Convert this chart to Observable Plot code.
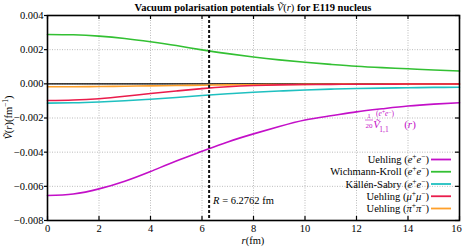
<!DOCTYPE html>
<html><head><meta charset="utf-8">
<script src="https://cdn.jsdelivr.net/npm/d3@7"></script>
<script src="https://cdn.jsdelivr.net/npm/@observablehq/plot@0.6"></script>
<style>body{margin:0;background:#fff}</style>
</head><body><div id="chart"></div>
<script>
// radius (fm)
const r = [0,1,2,3,4,5,6,7,8,9,10,11,12,13,14,15,16];
// potentials (fm^-1); Uehling e+e- already scaled by 1/20
const uehlingEE  = [-0.00654,-0.00645,-0.00615,-0.00570,-0.00513,-0.00452,-0.00395,-0.00340,-0.00293,-0.00250,-0.00212,-0.00187,-0.00164,-0.00146,-0.00130,-0.00119,-0.00111];
const wkEE       = [0.00289,0.00287,0.00279,0.00265,0.00246,0.00224,0.00199,0.00177,0.00157,0.00140,0.00126,0.00114,0.00103,0.00095,0.00088,0.00081,0.00075];
const ksEE       = [-0.00113,-0.00111,-0.00106,-0.00099,-0.00090,-0.00080,-0.00068,-0.00058,-0.00049,-0.00042,-0.00036,-0.00031,-0.00027,-0.00025,-0.00023,-0.00021,-0.00020];
const uehlingMu  = [-0.00098,-0.00095,-0.00087,-0.00073,-0.00057,-0.00042,-0.00028,-0.00017,-0.00010,-0.00006,-0.00004,-0.00003,-0.00002,-0.00002,-0.00001,-0.00001,-0.00001];
const uehlingPi  = [-0.00017,-0.00017,-0.00016,-0.00014,-0.00012,-0.00010,-0.00008,-0.00006,-0.00005,-0.00004,-0.00003,-0.00002,-0.00002,-0.00002,-0.00001,-0.00001,-0.00001];

const seriesNames = ["Uehling (e+e-)","Wichmann-Kroll (e+e-)","Källén-Sabry (e+e-)","Uehling (mu+mu-)","Uehling (pi+pi-)"];
const seriesValues = [uehlingEE, wkEE, ksEE, uehlingMu, uehlingPi];
const colors = ["#c30fc8","#33c033","#1fc0c0","#ea1c4b","#ffa02a"];
const drawOrder = [0,1,2,4,3];
const xTicks = [0,2,4,6,8,10,12,14,16];
const yTicks = [-0.008,-0.006,-0.004,-0.002,0,0.002,0.004];
const R = 6.2762;

const table = [];
drawOrder.forEach(si => r.forEach((rv,i) => table.push({r: rv, v: seriesValues[si][i], s: seriesNames[si]})));

const W = 463, H = 248, mL = 47, mR = 4, mT = 15, mB = 28;
const pw = W - mL - mR, ph = H - mT - mB;
const font = "'Liberation Serif', serif";

const plot = Plot.plot({
  width: W, height: H, marginLeft: mL, marginRight: mR, marginTop: mT, marginBottom: mB,
  style: {fontFamily: font, fontSize: "10.5px", background: "#fff", color: "#000"},
  x: {domain: [0, 16], ticks: xTicks},
  y: {domain: [-0.008, 0.004], ticks: yTicks},
  color: {domain: seriesNames, range: colors},
  marks: [
    Plot.gridX(xTicks, {stroke: "#aaa", strokeOpacity: 1, strokeDasharray: "1,1.5", strokeWidth: 0.8}),
    Plot.gridY(yTicks, {stroke: "#aaa", strokeOpacity: 1, strokeDasharray: "1,1.5", strokeWidth: 0.8}),
    Plot.axisX(xTicks, {tickSize: 0, tickPadding: 4, tickFormat: d => String(d), label: null}),
    Plot.axisY(yTicks, {tickSize: 3, tickPadding: 1, tickFormat: d3.format(".3f"), label: null, strokeWidth: 1.2}),
    Plot.tickX(xTicks, {x: d => d, insetTop: ph - 4, strokeWidth: 1.2}),
    Plot.tickX(xTicks, {x: d => d, insetBottom: ph - 4, strokeWidth: 1.2}),
    Plot.tickY(yTicks, {y: d => d, insetLeft: pw - 4, strokeWidth: 1.2}),
    Plot.ruleY([0], {stroke: "#000", strokeWidth: 1.2}),
    Plot.line(table, {x: "r", y: "v", z: "s", stroke: "s", curve: "natural", strokeWidth: 1.6}),
    Plot.ruleX([R], {stroke: "#111", strokeWidth: 2, strokeDasharray: "3,2"}),
    Plot.text([R], {x: d => d, frameAnchor: "bottom", dy: -17, dx: 4, textAnchor: "start",
      text: d => "R = " + d + " fm", fontSize: 10.5}),
    Plot.frame({stroke: "#000", strokeWidth: 1.6})
  ]
});
document.getElementById("chart").appendChild(plot);

const svg = d3.select(plot);
svg.selectAll("text").each(function(){
  const t = d3.select(this);
  const txt = t.text();
  if (txt.startsWith("R = ")) {
    const tn = t.select("tspan").empty() ? t : t.select("tspan");
    tn.text("");
    tn.append("tspan").attr("font-style","italic").text("R");
    tn.append("tspan").text(txt.slice(1));
  }
  if (txt === "16") t.attr("dx", -3);
});

// Title
const title = svg.append("text").attr("x", mL + pw/2).attr("y", 10.5).attr("text-anchor","middle")
  .attr("font-family", font).attr("font-size", 10.5).attr("font-weight", "bold");
title.append("tspan").text("Vacuum polarisation potentials ");
title.append("tspan").attr("font-style","italic").attr("font-weight","normal").text("Ṽ");
title.append("tspan").attr("font-weight","normal").text("(");
title.append("tspan").attr("font-style","italic").attr("font-weight","normal").text("r");
title.append("tspan").attr("font-weight","normal").text(")");
title.append("tspan").text(" for E119 nucleus");

// x label
const xl = svg.append("text").attr("x", mL + pw/2).attr("y", 244).attr("text-anchor","middle")
  .attr("font-family", font).attr("font-size", 10.5);
xl.append("tspan").attr("font-style","italic").text("r");
xl.append("tspan").text("(fm)");

// y label
const yl = svg.append("text").attr("transform", `translate(12,${mT + ph/2}) rotate(-90)`).attr("text-anchor","middle")
  .attr("font-family", font).attr("font-size", 10.5);
yl.append("tspan").attr("font-style","italic").text("Ṽ");
yl.append("tspan").text("(");
yl.append("tspan").attr("font-style","italic").text("r");
yl.append("tspan").text(")(fm");
yl.append("tspan").attr("font-size", 7.5).attr("dy", -4).text("−1");
yl.append("tspan").attr("dy", 4).text(")");

// Magenta annotation: 1/20 Ṽ_{1,1}^{(e+e-)}(r)
const mc = colors[0];
const ann = svg.append("g").attr("fill", mc).attr("font-family", font);
ann.append("text").attr("x", 369).attr("y", 118).attr("text-anchor","middle").attr("font-size", 7).text("1");
ann.append("line").attr("x1", 365).attr("x2", 373).attr("y1", 120).attr("y2", 120).attr("stroke", mc).attr("stroke-width", 0.6);
ann.append("text").attr("x", 369).attr("y", 127.5).attr("text-anchor","middle").attr("font-size", 7).text("20");
ann.append("text").attr("x", 376.5).attr("y", 128).attr("font-size", 11).attr("font-style","italic").text("Ṽ");
const sup = ann.append("text").attr("x", 385).attr("y", 115.5).attr("font-size", 7.5);
sup.append("tspan").text("(");
sup.append("tspan").attr("font-style","italic").text("e");
sup.append("tspan").attr("font-size", 5.5).attr("dy", -2).text("+");
sup.append("tspan").attr("font-style","italic").attr("dy", 2).text("e");
sup.append("tspan").attr("font-size", 5.5).attr("dy", -2).text("−");
sup.append("tspan").attr("dy", 2).text(")");
ann.append("text").attr("x", 384).attr("y", 132).attr("font-size", 7.5).text("1,1");
const rr = ann.append("text").attr("x", 410).attr("y", 128).attr("font-size", 11);
rr.append("tspan").text("(");
rr.append("tspan").attr("font-style","italic").text("r");
rr.append("tspan").text(")");

// Legend
const legendLabels = [
  ["Uehling (", ["e","+"], ["e","−"], ")"],
  ["Wichmann-Kroll (", ["e","+"], ["e","−"], ")"],
  ["Källén-Sabry (", ["e","+"], ["e","−"], ")"],
  ["Uehling (", ["μ","+"], ["μ","−"], ")"],
  ["Uehling (", ["π","+"], ["π","−"], ")"]
];
const lg = svg.append("g").attr("font-family", font).attr("font-size", 10.5);
legendLabels.forEach((lab, i) => {
  const y = 159.5 + i * 12.25;
  const t = lg.append("text").attr("x", 429).attr("y", y + 3.5).attr("text-anchor", "end");
  t.append("tspan").text(lab[0]);
  t.append("tspan").attr("font-style","italic").text(lab[1][0]);
  t.append("tspan").attr("font-size", 7.5).attr("dy", -4).text(lab[1][1]);
  t.append("tspan").attr("font-style","italic").attr("dy", 4).text(lab[2][0]);
  t.append("tspan").attr("font-size", 7.5).attr("dy", -4).text(lab[2][1]);
  t.append("tspan").attr("dy", 4).text(lab[3]);
  lg.append("line").attr("x1", 431).attr("x2", 451).attr("y1", y).attr("y2", y)
    .attr("stroke", colors[i]).attr("stroke-width", 1.8);
});
</script></body></html>
